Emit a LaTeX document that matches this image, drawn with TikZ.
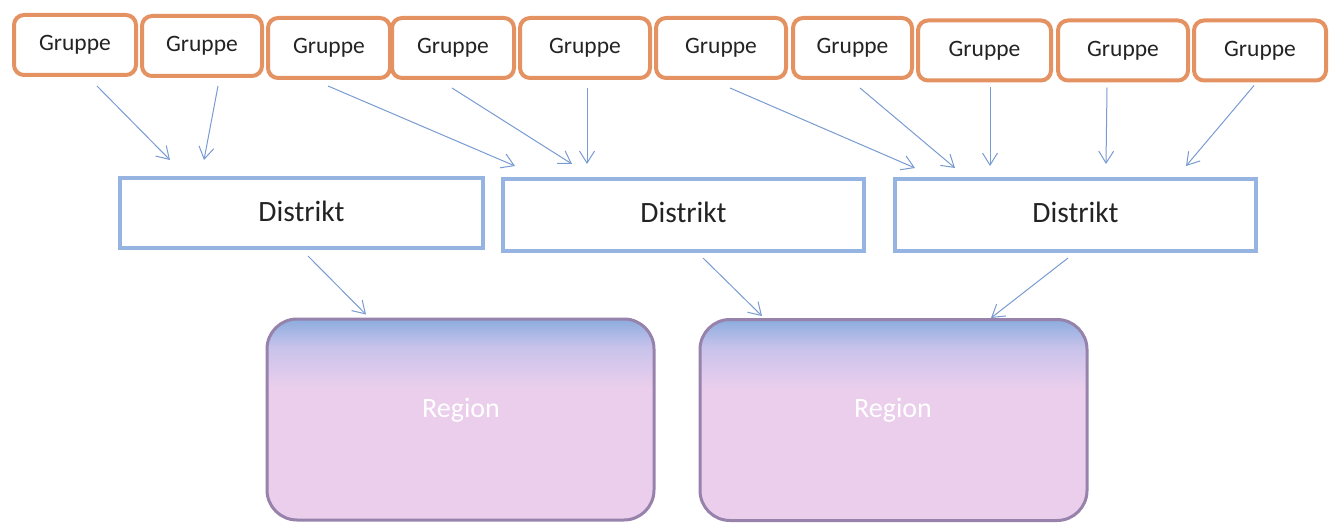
\documentclass[tikz,border=0pt]{standalone}
\usepackage{fontspec}
\setmainfont{Carlito}
\usetikzlibrary{arrows.meta,calc}
\definecolor{grpedge}{RGB}{228,146,98}
\definecolor{distedge}{RGB}{150,180,225}
\definecolor{arrcol}{RGB}{120,155,210}
\definecolor{regedge}{RGB}{150,130,170}
\definecolor{regpink}{RGB}{234,206,236}
\definecolor{regblue}{RGB}{140,172,222}
\definecolor{regmid}{RGB}{200,195,235}
\definecolor{txt}{RGB}{35,35,35}
\pgfdeclareverticalshading{regshade}{100bp}{color(0bp)=(regpink); color(25bp)=(regpink); color(58bp)=(regpink); color(68bp)=(regmid); color(75bp)=(regblue); color(100bp)=(regblue)}
\tikzset{
  grp/.style={draw=grpedge, line width=4pt, rounded corners=10pt, fill=white,
    minimum height=60pt, inner sep=0pt, text=txt, font=\fontsize{23.5}{25}\selectfont},
  dist/.style={draw=distedge, line width=4pt, fill=white, inner sep=0pt,
    text=txt, font=\fontsize{29.5}{31}\selectfont},
  reg/.style={draw=regedge, line width=3pt, rounded corners=30pt, shading=regshade,
    minimum width=387pt, minimum height=201pt, inner sep=0pt},
  regtext/.style={text=white, font=\fontsize{28}{30}\selectfont},
  arr/.style={draw=arrcol, line width=1pt, -{Straight Barb[length=12pt,width=15pt,line width=1pt]}}
}
\begin{document}
\begin{tikzpicture}[x=1pt,y=-1pt]
\useasboundingbox (0,0) rectangle (1338,524);
% Gruppe boxes
\node[grp, minimum width=122pt] (g1) at (75,45) {Gruppe};
\node[grp, minimum width=120pt] (g2) at (202,46) {Gruppe};
\node[grp, minimum width=122pt] (g3) at (329,48) {Gruppe};
\node[grp, minimum width=122pt] (g4) at (453,48) {Gruppe};
\node[grp, minimum width=130pt] (g5) at (585,48) {Gruppe};
\node[grp, minimum width=130pt] (g6) at (721,48) {Gruppe};
\node[grp, minimum width=119pt] (g7) at (852.5,48) {Gruppe};
\node[grp, minimum width=133pt] (g8) at (984.5,50.5) {Gruppe};
\node[grp, minimum width=130pt] (g9) at (1123,50.5) {Gruppe};
\node[grp, minimum width=132pt] (g10) at (1260,50.5) {Gruppe};
% Distrikt boxes
\node[dist, minimum width=363pt, minimum height=70pt] (d1) at (301.5,213) {\raisebox{3pt}{Distrikt}};
\node[dist, minimum width=361pt, minimum height=72pt] (d2) at (683.5,215) {\raisebox{5pt}{Distrikt}};
\node[dist, minimum width=361pt, minimum height=72pt] (d3) at (1075.5,215) {\raisebox{5pt}{Distrikt}};
% Region boxes
\node[reg] (r1) at (460.5,419.5) {};
\node[reg] (r2) at (893.5,420) {};
\node[regtext] (r1t) at (461,410) {Region};
\node[regtext] (r2t) at (893,410) {Region};
% Arrows Gruppe -> Distrikt
\draw[arr] ($(g1.south)+(22,9)$) -- ($(d1.north)+(-131.5,-16)$);
\draw[arr] ($(g2.south)+(16,8)$) -- ($(d1.north)+(-97.5,-16)$);
\draw[arr] ($(g3.south)+(-1,6)$) -- ($(d2.north)+(-168.5,-11)$);
\draw[arr] ($(g4.south)+(-1,8)$) -- ($(d2.north)+(-111.5,-13)$);
\draw[arr] ($(g5.south)+(2,8)$) -- ($(d2.north)+(-96.5,-13)$);
\draw[arr] ($(g6.south)+(9,8)$) -- ($(d3.north)+(-160.5,-9)$);
\draw[arr] ($(g7.south)+(7.5,8)$) -- ($(d3.north)+(-120.5,-9)$);
\draw[arr] ($(g8.south)+(5.5,5)$) -- ($(d3.north)+(-85.5,-11)$);
\draw[arr] ($(g9.south)+(-16,5)$) -- ($(d3.north)+(30.5,-13)$);
\draw[arr] ($(g10.south)+(-6,3)$) -- ($(d3.north)+(110.5,-11)$);
% Arrows Distrikt -> Region
\draw[arr] ($(d1.south)+(6.5,6)$) -- ($(r1.north)+(-94.5,-3)$);
\draw[arr] ($(d2.south)+(19.5,5)$) -- ($(r2.north)+(-131.5,-2)$);
\draw[arr] ($(d3.south)+(-7.5,5)$) -- ($(r2.north)+(97.5,0)$);
\end{tikzpicture}
\end{document}
